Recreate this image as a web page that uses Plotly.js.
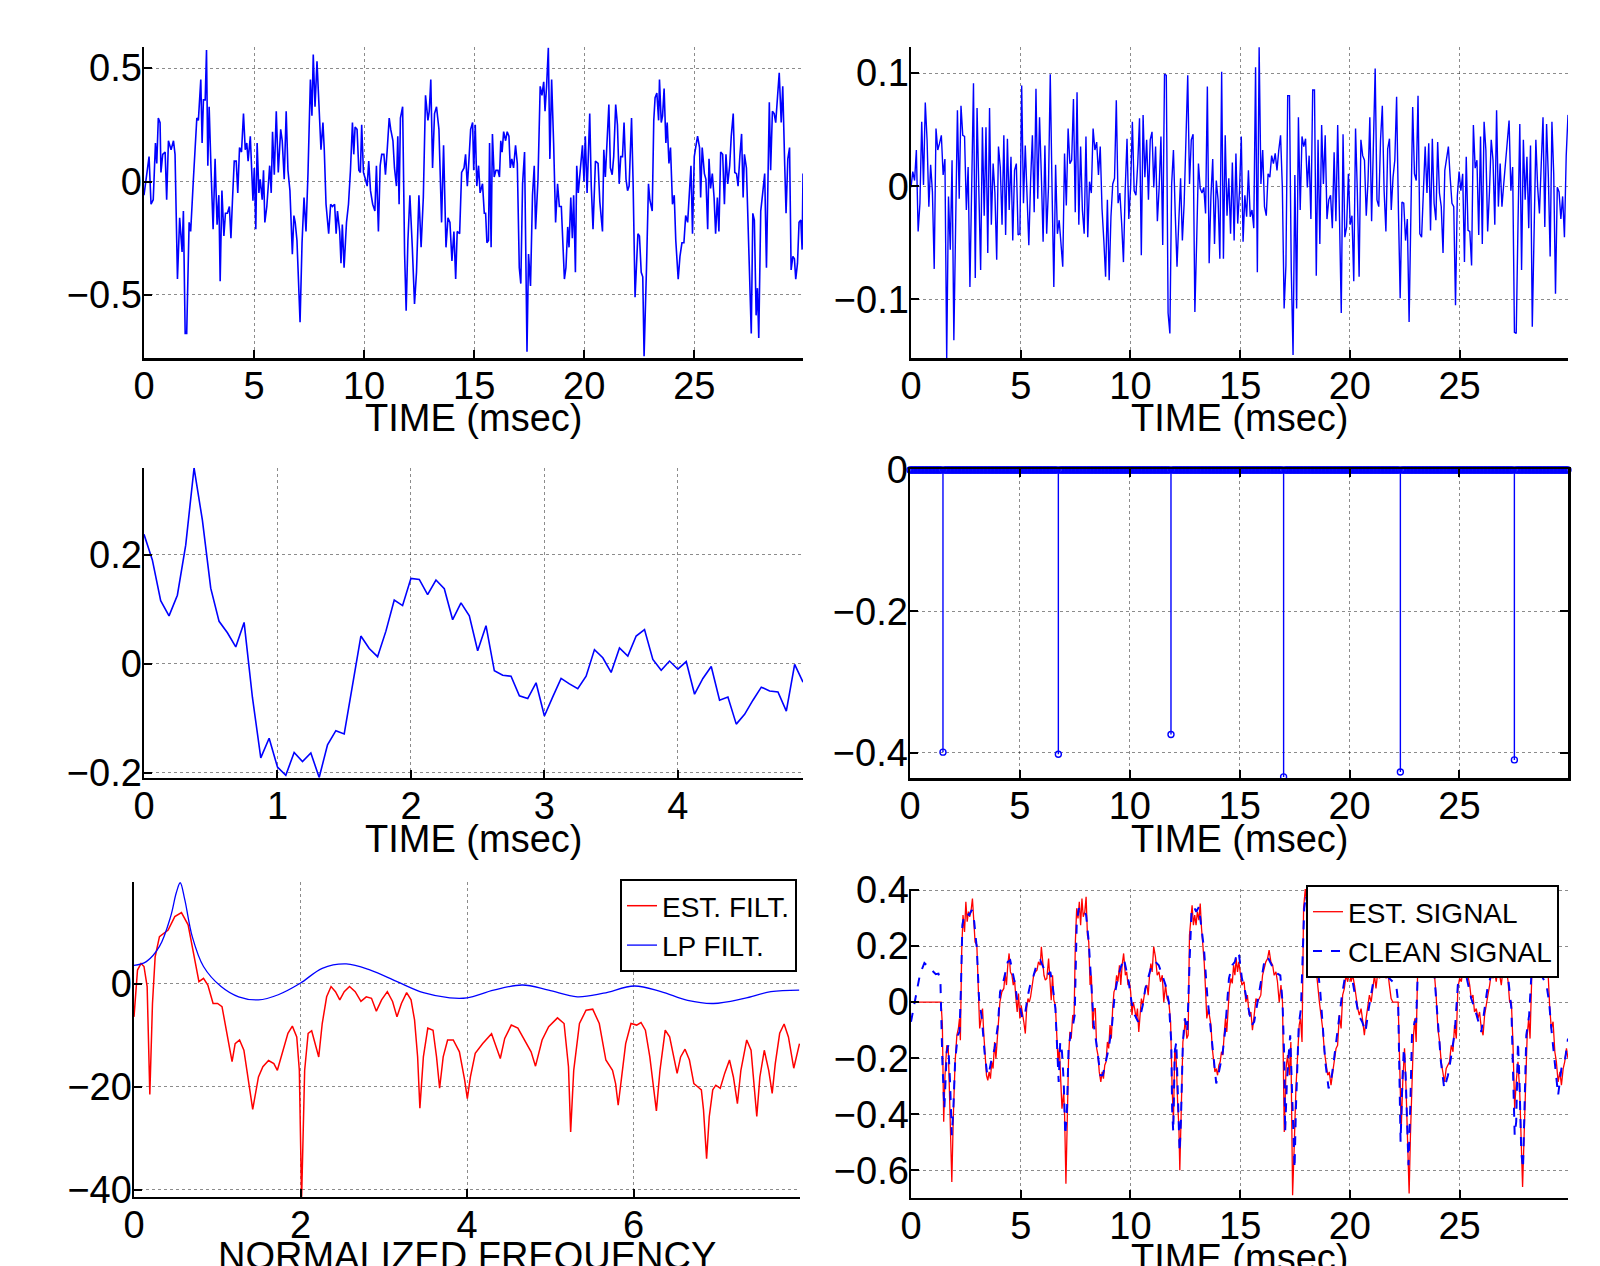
<!DOCTYPE html>
<html><head><meta charset="utf-8">
<script src="https://cdn.plot.ly/plotly-3.0.1.min.js"></script>
<style>html,body{margin:0;padding:0;background:#fff}#chart{width:1600px;height:1266px}</style>
</head><body><div id="chart"></div>
<script>
// ---------- DATA ----------
// Top-left: noisy speech-like signal [time ms, value]
const tlPts = [
[0,-0.06],[0.12,0.03],[0.23,0.11],[0.32,-0.10],[0.42,-0.08],[0.52,0.17],[0.58,0.08],[0.65,0.28],[0.73,0.26],[0.77,0.04],
[0.85,0.12],[0.96,0.13],[1.03,-0.08],[1.11,0.18],[1.23,0.14],[1.34,0.18],[1.41,0.12],[1.52,-0.43],[1.62,-0.16],[1.73,-0.31],
[1.79,-0.13],[1.87,-0.67],[1.94,-0.67],[2.05,-0.18],[2.12,-0.22],[2.25,0.02],[2.40,0.28],[2.47,0.27],[2.58,0.45],[2.64,0.17],
[2.70,0.36],[2.78,0.36],[2.84,0.58],[2.90,0.07],[2.96,0.33],[3.05,0.04],[3.14,-0.21],[3.23,0.10],[3.32,-0.19],[3.40,-0.06],
[3.46,-0.44],[3.54,-0.04],[3.63,-0.24],[3.70,-0.14],[3.79,-0.14],[3.88,-0.11],[3.95,-0.25],[4.02,-0.08],[4.10,0.09],[4.19,0.09],
[4.26,-0.05],[4.34,0.15],[4.43,0.13],[4.52,0.30],[4.60,0.14],[4.67,0.17],[4.73,0.09],[4.83,0.20],[4.89,0.05],[4.95,-0.085],
[5.01,0.06],[5.08,-0.21],[5.14,0.17],[5.22,-0.05],[5.28,0.01],[5.37,-0.08],[5.43,0.05],[5.49,-0.18],[5.58,-0.11],[5.71,0.07],
[5.78,-0.05],[5.84,0.22],[5.92,0.03],[6.01,0.31],[6.10,0.04],[6.21,0.23],[6.28,0.18],[6.37,0.01],[6.46,0.31],[6.54,0.05],
[6.63,-0.04],[6.74,-0.32],[6.81,-0.15],[6.87,-0.18],[6.95,-0.26],[7.09,-0.62],[7.18,-0.27],[7.27,-0.07],[7.36,-0.22],[7.45,0.035],
[7.56,0.45],[7.63,0.29],[7.69,0.56],[7.77,0.33],[7.86,0.53],[7.95,0.34],[8.04,0.14],[8.13,0.26],[8.19,0.14],[8.27,-0.10],
[8.39,-0.23],[8.48,-0.10],[8.56,-0.11],[8.66,-0.10],[8.73,-0.23],[8.79,-0.13],[8.89,-0.22],[8.95,-0.36],[9.01,-0.19],[9.09,-0.38],
[9.20,-0.18],[9.29,-0.10],[9.38,0.05],[9.47,0.26],[9.53,0.12],[9.59,0.24],[9.68,0.23],[9.76,0.05],[9.83,0.04],[9.89,0.25],
[9.97,0.04],[10.06,0.01],[10.14,-0.02],[10.21,0.09],[10.29,-0.04],[10.39,-0.10],[10.49,-0.13],[10.56,0.07],[10.65,-0.22],[10.73,0.07],
[10.80,0.12],[10.90,0.12],[10.97,0.03],[11.05,0.14],[11.14,0.28],[11.21,0.23],[11.31,0.18],[11.38,0.06],[11.47,-0.02],[11.53,0.20],
[11.59,-0.10],[11.65,0.28],[11.75,0.33],[11.84,-0.32],[11.91,-0.57],[11.99,-0.26],[12.08,-0.06],[12.19,-0.29],[12.29,-0.54],[12.38,-0.40],
[12.49,-0.06],[12.59,-0.29],[12.69,-0.07],[12.79,0.38],[12.90,0.27],[12.96,0.31],[13.03,0.45],[13.11,0.06],[13.20,0.30],[13.29,0.33],
[13.40,0.23],[13.52,-0.18],[13.61,0.16],[13.72,-0.29],[13.81,-0.16],[13.90,-0.18],[13.99,-0.35],[14.08,-0.22],[14.16,-0.43],[14.23,-0.22],
[14.34,-0.23],[14.43,0.04],[14.54,0.06],[14.61,0.12],[14.69,-0.02],[14.76,0.09],[14.84,0.23],[14.93,0.26],[14.98,0.05],
[15.05,0.25],[15.12,-0.02],[15.20,0.07],[15.27,-0.05],[15.38,-0.01],[15.46,-0.14],[15.52,-0.14],[15.58,-0.27],[15.65,-0.26],[15.70,0.17],
[15.77,-0.29],[15.83,0.21],[15.91,0.02],[15.99,0.05],[16.08,0.05],[16.15,0.02],[16.21,0.18],[16.27,0.13],[16.34,0.22],[16.43,0.18],
[16.50,0.22],[16.58,0.20],[16.64,0.06],[16.71,0.10],[16.79,0.06],[16.88,0.16],[16.96,0.08],[17.05,-0.38],[17.12,-0.45],[17.20,-0.01],
[17.29,0.13],[17.40,-0.75],[17.47,-0.32],[17.56,-0.46],[17.65,-0.06],[17.73,0.07],[17.79,-0.21],[17.90,0.01],[18.00,0.42],[18.08,0.38],
[18.16,0.44],[18.22,0.31],[18.29,0.42],[18.37,0.59],[18.44,0.10],[18.52,0.45],[18.61,0.17],[18.70,-0.18],[18.79,-0.01],[18.87,-0.11],
[18.96,-0.11],[19.10,-0.43],[19.17,-0.38],[19.25,-0.20],[19.31,-0.29],[19.39,-0.07],[19.46,-0.25],[19.52,-0.06],[19.60,-0.40],[19.66,0.07],
[19.73,-0.05],[19.83,0.08],[19.92,0.16],[19.99,0.00],[20.05,0.20],[20.13,-0.05],[20.25,0.30],[20.32,-0.02],[20.40,-0.21],[20.51,0.09],
[20.63,0.08],[20.71,-0.09],[20.83,-0.22],[20.89,0.14],[20.96,0.02],[21.02,0.14],[21.12,0.34],[21.19,0.06],[21.27,0.03],[21.34,0.11],
[21.43,0.34],[21.51,0.25],[21.59,-0.01],[21.66,0.11],[21.74,0.11],[21.81,0.26],[21.90,0.01],[21.97,-0.04],[22.04,-0.02],[22.15,0.28],
[22.22,0.00],[22.31,-0.51],[22.44,-0.23],[22.51,-0.24],[22.59,-0.40],[22.66,-0.42],[22.72,-0.77],[22.83,-0.38],[22.92,-0.01],[22.98,-0.08],
[23.09,-0.13],[23.16,0.27],[23.22,0.37],[23.30,0.39],[23.38,0.27],[23.42,0.45],[23.50,0.26],[23.56,0.29],[23.63,0.41],[23.71,0.17],
[23.77,0.26],[23.85,0.08],[23.92,0.15],[24.01,-0.10],[24.09,-0.06],[24.16,-0.26],[24.27,-0.43],[24.35,-0.33],[24.44,-0.27],[24.53,-0.27],
[24.61,-0.15],[24.70,-0.18],[24.77,-0.08],[24.85,0.07],[24.92,-0.23],[25.00,0.11],[25.08,0.16],[25.15,0.20],[25.24,0.15],[25.29,-0.07],
[25.36,0.15],[25.46,0.035],[25.53,0.01],[25.61,-0.21],[25.67,0.10],[25.74,-0.03],[25.82,0.035],[25.90,-0.07],[25.97,-0.23],[26.05,-0.07],
[26.12,-0.22],[26.20,0.13],[26.29,0.12],[26.37,-0.10],[26.44,0.12],[26.52,-0.01],[26.61,0.07],[26.68,0.20],[26.77,0.30],[26.84,0.04],
[26.92,0.035],[26.99,-0.02],[27.07,0.11],[27.15,0.21],[27.22,-0.07],[27.28,0.12],[27.37,0.06],[27.46,-0.23],[27.59,-0.67],[27.66,-0.14],
[27.73,-0.17],[27.81,-0.59],[27.87,-0.47],[27.93,-0.69],[28.02,-0.13],[28.11,-0.05],[28.20,0.035],[28.28,-0.38],[28.37,0.12],[28.41,0.35],
[28.47,0.05],[28.55,0.31],[28.63,0.30],[28.70,0.26],[28.78,0.37],[28.86,0.48],[28.95,0.26],[29.02,0.42],[29.11,0.07],[29.17,-0.14],
[29.25,0.10],[29.33,0.15],[29.40,-0.39],[29.48,-0.33],[29.55,-0.34],[29.61,-0.43],[29.69,-0.36],[29.76,-0.18],[29.84,-0.17],[29.90,-0.30],
[29.94,0.035]
];

// Top-right: residual noise, evenly sampled over the record
const trSpan = 29.94; // ms
const trVals = [
-0.001,0.013,0.005,0.032,-0.040,-0.015,0.057,0.001,0.074,0.041,
-0.018,0.019,-0.005,-0.073,0.051,0.032,0.038,0.045,0.010,0.024,
-0.152,-0.009,-0.056,0.023,-0.136,-0.045,0.067,-0.011,0.071,0.045,
0.044,-0.021,0.017,-0.089,0.011,0.091,-0.081,0.069,-0.004,-0.074,
0.052,-0.026,0.052,-0.059,0.069,-0.034,0.020,-0.006,-0.065,0.035,
0.017,-0.034,0.045,-0.043,0.042,-0.021,0.026,-0.048,0.014,0.020,
-0.043,-0.042,0.089,-0.015,0.036,-0.001,-0.052,0.005,0.045,-0.023,
0.086,-0.011,0.061,0.010,-0.049,0.036,-0.042,-0.001,0.099,-0.002,
-0.089,0.019,-0.042,-0.030,-0.051,-0.071,0.029,-0.017,0.051,0.020,
0.023,0.077,-0.023,0.083,-0.034,0.035,-0.021,-0.042,0.044,-0.045,
0.004,-0.006,0.051,0.032,0.039,0.010,0.035,-0.020,-0.048,-0.080,
-0.012,-0.083,-0.027,0.002,0.007,0.076,-0.015,-0.006,-0.033,-0.067,
-0.002,0.042,-0.029,-0.001,0.057,-0.004,-0.008,0.020,0.060,-0.061,
0.063,0.008,0.041,-0.012,0.041,0.048,-0.001,0.035,-0.031,-0.001,
0.044,-0.052,0.099,0.098,-0.112,-0.130,0.002,0.032,-0.024,-0.071,
-0.031,0.007,-0.048,-0.015,0.041,0.098,0.002,0.041,0.046,-0.111,
-0.049,0.020,-0.002,-0.006,-0.001,-0.024,0.088,-0.068,-0.009,0.024,
-0.051,0.005,-0.012,-0.064,0.101,-0.064,0.045,-0.026,0.007,-0.042,
0.021,-0.048,0.029,-0.033,-0.004,0.044,-0.049,-0.008,-0.027,0.014,
-0.027,-0.021,-0.037,0.105,-0.076,0.123,0.002,0.032,-0.018,-0.026,
0.011,0.008,0.027,0.020,0.029,0.014,0.032,0.045,-0.001,-0.108,
-0.070,0.080,0.080,-0.074,-0.149,0.010,-0.108,0.061,-0.021,0.044,
0.035,0.042,-0.001,0.027,-0.029,0.085,0.085,-0.079,0.041,-0.051,
0.054,0.002,0.045,-0.029,-0.012,-0.008,-0.037,0.030,-0.031,0.054,
-0.027,-0.112,0.046,-0.045,-0.036,0.011,-0.034,-0.026,-0.084,0.051,
-0.005,-0.080,0.041,0.027,0.023,-0.026,0.005,0.061,-0.031,0.048,
0.104,-0.012,-0.018,0.041,0.071,-0.004,-0.040,0.033,0.042,-0.021,
0.008,0.023,0.079,-0.020,-0.099,-0.014,-0.015,-0.048,-0.029,-0.120,
-0.029,0.070,0.011,0.005,0.080,-0.042,-0.045,-0.009,0.035,-0.006,
0.038,-0.039,0.042,-0.015,-0.030,0.039,-0.006,-0.018,-0.059,0.014,
0.024,0.035,0.008,-0.015,-0.018,-0.105,-0.009,0.013,-0.004,0.011,
-0.067,0.026,-0.039,-0.040,-0.070,0.054,0.016,0.023,-0.043,0.044,
-0.051,0.057,0.032,-0.040,-0.005,0.041,0.023,-0.034,0.067,-0.018,
0.020,-0.018,0.002,0.020,0.041,0.058,-0.004,0.017,-0.129,-0.130,
-0.033,0.055,-0.074,0.041,-0.012,0.026,-0.037,0.036,-0.124,-0.021,
0.041,-0.001,-0.024,0.019,0.061,-0.036,0.055,0.008,-0.062,0.057,
0.011,-0.095,-0.001,-0.005,-0.029,-0.009,-0.045,0.027,0.063
];

// Middle-left: estimated filter impulse response, sampled at 16 kHz
const sampleMs = 0.0625;
const mlVals = [
0.238,0.191,0.116,0.088,0.126,0.218,0.360,0.264,0.139,0.078,
0.057,0.031,0.076,-0.062,-0.173,-0.137,-0.190,-0.205,-0.163,-0.180,
-0.164,-0.209,-0.149,-0.123,-0.129,-0.038,0.051,0.028,0.013,0.060,
0.117,0.107,0.157,0.155,0.127,0.154,0.138,0.081,0.112,0.088,
0.024,0.070,-0.013,-0.021,-0.023,-0.059,-0.064,-0.035,-0.096,-0.061,
-0.027,-0.037,-0.046,-0.023,0.026,0.011,-0.016,0.029,0.014,0.051,
0.063,0.008,-0.012,0.005,-0.010,0.004,-0.056,-0.027,-0.005,-0.067,
-0.061,-0.111,-0.093,-0.067,-0.043,-0.050,-0.052,-0.087,-0.001,-0.034
];

// Middle-right: sparse pulse train (480 samples at 16 kHz, zero except pulses)
const pulseCount = 480;
const pulseTimes = [1.5, 6.75, 11.875, 17.0, 22.3125, 27.5];
const pulseAmps  = [-0.399, -0.402, -0.374, -0.434, -0.427, -0.410];

// Bottom-left: frequency responses [normalized freq, dB]
const lpFilt = [
[0,3.6],[0.148,4.35],[0.306,7.3],[0.44,13.1],[0.507,17.7],[0.555,19.7],[0.61,16.4],[0.70,9.2],[0.835,3.4],[1.046,-0.5],
[1.257,-2.5],[1.495,-3.1],[1.733,-2.1],[1.997,0.13],[2.261,3.05],[2.55,3.9],[2.84,2.7],[3.16,0.45],[3.476,-1.7],[3.793,-2.7],
[4.0,-2.7],[4.32,-1.2],[4.665,-0.2],[4.98,-1.2],[5.325,-2.5],[5.64,-1.8],[6.01,-0.4],[6.33,-1.5],[6.65,-3.2],[6.96,-3.8],
[7.33,-2.8],[7.65,-1.5],[7.99,-1.2]
];
const estFilt = [
[0,-6.4],[0.042,2.7],[0.085,4.0],[0.12,3.4],[0.158,-0.5],[0.19,-21.5],[0.222,-3.8],[0.254,5.3],[0.306,9.2],[0.359,9.9],
[0.41,10.5],[0.49,13.1],[0.57,13.9],[0.65,11.5],[0.73,5.0],[0.78,0.45],[0.835,1.1],[0.887,-0.2],[0.95,-3.8],[1.004,-3.8],
[1.057,-4.4],[1.125,-10.9],[1.178,-15.1],[1.215,-11.6],[1.268,-10.9],[1.32,-12.9],[1.379,-19.4],[1.426,-24.4],[1.495,-18.1],[1.548,-16.1],
[1.616,-14.9],[1.68,-15.5],[1.722,-16.8],[1.786,-13.2],[1.849,-9.6],[1.902,-8.2],[1.955,-10.3],[1.986,-16.8],[2.013,-42],[2.05,-16.8],
[2.092,-9.6],[2.134,-9.1],[2.176,-11.6],[2.219,-14.2],[2.261,-7.7],[2.314,-2.5],[2.367,-0.5],[2.42,-1.5],[2.472,-3.1],[2.525,-1.5],
[2.589,-0.5],[2.657,-1.5],[2.726,-3.4],[2.79,-2.5],[2.853,-2.8],[2.911,-5.3],[2.974,-3.1],[3.043,-1.5],[3.106,-3.4],[3.159,-6.4],
[3.212,-3.8],[3.275,-1.7],[3.328,-3.1],[3.37,-7.0],[3.407,-14.2],[3.434,-24.2],[3.476,-14.2],[3.529,-8.6],[3.592,-9.0],[3.634,-14.2],
[3.671,-20.3],[3.714,-14.2],[3.767,-10.9],[3.835,-10.9],[3.909,-13.2],[3.972,-18.7],[4.004,-22.3],[4.041,-18.1],[4.099,-13.5],[4.189,-11.6],
[4.295,-9.7],[4.347,-12.2],[4.4,-14.5],[4.453,-10.6],[4.532,-8.0],[4.611,-8.6],[4.69,-10.9],[4.77,-13.2],[4.823,-16.0],[4.902,-10.9],
[4.981,-8.3],[5.087,-6.6],[5.166,-7.7],[5.219,-16.1],[5.245,-28.8],[5.282,-16.8],[5.351,-7.7],[5.43,-5.1],[5.51,-4.9],[5.589,-7.7],
[5.668,-14.8],[5.748,-16.8],[5.785,-19.4],[5.816,-23.6],[5.853,-18.7],[5.906,-11.6],[5.97,-7.7],[6.038,-8.0],[6.09,-7.5],[6.143,-9.0],
[6.196,-14.2],[6.238,-20.0],[6.275,-24.7],[6.318,-16.8],[6.381,-9.0],[6.434,-10.3],[6.487,-14.8],[6.524,-17.4],[6.566,-14.2],[6.619,-12.7],
[6.672,-14.8],[6.725,-19.4],[6.778,-20.1],[6.815,-20.6],[6.841,-24.5],[6.878,-34.0],[6.91,-25.8],[6.952,-20.6],[6.989,-19.7],[7.042,-20.3],
[7.095,-17.4],[7.153,-14.8],[7.2,-18.1],[7.248,-23.3],[7.29,-16.8],[7.36,-10.9],[7.412,-12.9],[7.444,-19.4],[7.481,-25.8],[7.518,-18.1],
[7.571,-12.9],[7.624,-16.8],[7.666,-21.3],[7.703,-15.5],[7.756,-9.6],[7.809,-7.8],[7.861,-10.3],[7.925,-16.4],[7.994,-11.6]
];

// Bottom-right: estimated vs clean signal [time ms, value]
const estSignal = [
[0,0],[1.37,0],[1.43,-0.082],[1.49,-0.427],[1.55,-0.26],[1.63,-0.154],[1.70,-0.165],[1.77,-0.38],[1.86,-0.642],[1.93,-0.404],
[2.01,-0.213],[2.09,-0.118],[2.16,-0.094],[2.21,-0.058],[2.25,-0.136],[2.31,0.18],[2.37,0.311],[2.44,0.251],[2.50,0.358],[2.56,0.287],
[2.62,0.323],[2.68,0.305],[2.74,0.329],[2.80,0.37],[2.86,0.275],[2.92,0.215],[3.00,0.204],[3.07,0.037],[3.13,-0.094],[3.20,-0.058],
[3.26,-0.023],[3.32,-0.118],[3.38,-0.201],[3.44,-0.261],[3.50,-0.279],[3.56,-0.249],[3.62,-0.273],[3.68,-0.213],[3.74,-0.237],[3.81,-0.142],
[3.87,-0.201],[3.93,-0.13],[3.99,-0.082],[4.05,0.0],[4.14,0.037],[4.23,0.049],[4.29,0.102],[4.35,0.061],[4.41,0.132],[4.47,0.174],
[4.53,0.108],[4.60,0.096],[4.66,0.061],[4.72,0.079],[4.78,0.013],[4.84,-0.035],[4.90,0.031],[4.96,-0.058],[5.02,-0.011],[5.08,-0.035],
[5.14,-0.07],[5.21,-0.112],[5.27,-0.023],[5.33,0.013],[5.39,0.0],[5.45,0.019],[5.51,0.061],[5.59,0.096],[5.66,0.108],[5.74,0.114],
[5.81,0.144],[5.89,0.132],[5.94,0.198],[6.00,0.144],[6.06,0.096],[6.12,0.079],[6.19,0.085],[6.27,0.156],[6.33,0.096],[6.39,0.007],
[6.45,0.096],[6.51,0.007],[6.58,-0.011],[6.64,-0.118],[6.70,-0.213],[6.76,-0.165],[6.82,-0.261],[6.88,-0.38],[6.96,-0.32],[7.00,-0.404],
[7.06,-0.648],[7.12,-0.404],[7.18,-0.201],[7.24,-0.106],[7.30,-0.13],[7.37,-0.046],[7.43,-0.058],[7.49,0.215],[7.55,0.335],[7.61,0.299],
[7.67,0.358],[7.73,0.275],[7.79,0.37],[7.85,0.305],[7.92,0.323],[7.98,0.376],[8.04,0.239],[8.10,0.215],[8.16,0.061],[8.22,0.096],
[8.28,-0.094],[8.34,-0.023],[8.40,-0.023],[8.46,-0.165],[8.52,-0.189],[8.58,-0.249],[8.65,-0.285],[8.71,-0.249],[8.77,-0.273],[8.83,-0.225],
[8.89,-0.213],[8.95,-0.142],[9.01,-0.165],[9.07,-0.082],[9.13,-0.13],[9.19,-0.023],[9.25,0.037],[9.31,0.049],[9.37,0.096],[9.43,0.073],
[9.50,0.132],[9.56,0.061],[9.62,0.132],[9.69,0.174],[9.77,0.096],[9.83,0.108],[9.89,0.061],[9.95,0.073],[10.01,0.037],[10.07,-0.046],
[10.13,0.0],[10.19,-0.023],[10.26,-0.058],[10.32,-0.023],[10.38,-0.106],[10.44,-0.046],[10.50,0.013],[10.56,-0.011],[10.62,0.013],[10.68,0.049],
[10.75,0.061],[10.81,0.025],[10.87,0.096],[10.93,0.138],[10.99,0.108],[11.06,0.198],[11.14,0.162],[11.22,0.096],[11.30,0.108],[11.37,0.073],
[11.45,0.096],[11.52,0.0],[11.60,0.061],[11.67,0.013],[11.75,0.0],[11.83,-0.07],[11.90,-0.308],[11.96,-0.427],[12.02,-0.165],[12.09,-0.213],
[12.15,-0.356],[12.21,-0.451],[12.25,-0.60],[12.33,-0.38],[12.39,-0.142],[12.45,-0.106],[12.50,-0.058],[12.57,-0.13],[12.63,-0.118],[12.69,0.239],
[12.75,0.287],[12.81,0.346],[12.87,0.275],[12.93,0.311],[12.99,0.275],[13.05,0.323],[13.12,0.293],[13.18,0.352],[13.24,0.263],[13.30,0.215],
[13.36,0.144],[13.42,0.049],[13.48,-0.058],[13.55,-0.023],[13.61,-0.046],[13.67,-0.082],[13.73,-0.165],[13.79,-0.213],[13.85,-0.249],[13.91,-0.237],
[13.97,-0.261],[14.03,-0.225],[14.09,-0.213],[14.15,-0.177],[14.21,-0.189],[14.27,-0.118],[14.33,-0.058],[14.39,-0.106],[14.45,0.0],[14.51,0.049],
[14.58,0.085],[14.64,0.067],[14.70,0.132],[14.76,0.096],[14.82,0.156],[14.88,0.108],[14.94,0.144],[15.00,0.108],[15.08,0.061],[15.18,0.073],
[15.26,0.0],[15.33,0.025],[15.41,-0.046],[15.49,-0.035],[15.56,-0.10],[15.64,-0.046],[15.72,0.013],[15.79,0.0],[15.87,0.013],[15.94,0.025],
[16.02,0.096],[16.10,0.12],[16.17,0.144],[16.25,0.156],[16.32,0.186],[16.40,0.144],[16.48,0.132],[16.55,0.096],[16.63,0.108],[16.70,0.073],
[16.78,0.0],[16.86,0.061],[16.93,0.0],[17.01,-0.463],[17.09,-0.237],[17.16,-0.189],[17.24,-0.261],[17.31,-0.142],[17.39,-0.689],[17.46,-0.523],
[17.54,-0.308],[17.62,-0.189],[17.69,-0.082],[17.75,-0.058],[17.82,-0.142],[17.89,0.335],[17.97,0.406],[18.05,0.34],[18.15,0.30],[18.25,0.36],
[18.35,0.28],[18.40,0.40],[18.46,0.12],[18.61,0.0],[18.68,-0.046],[18.76,-0.094],[18.84,-0.177],[18.91,-0.225],[18.99,-0.261],[19.06,-0.249],
[19.14,-0.296],[19.22,-0.249],[19.29,-0.213],[19.37,-0.165],[19.44,-0.154],[19.52,-0.046],[19.60,-0.094],[19.67,0.025],[19.75,0.049],[19.82,0.096],
[19.90,0.073],[19.98,0.108],[20.05,0.073],[20.13,0.096],[20.21,0.061],[20.28,0.013],[20.36,-0.023],[20.43,-0.046],[20.51,-0.023],[20.59,-0.07],
[20.66,-0.118],[20.74,-0.058],[20.81,-0.023],[20.89,0.025],[20.97,0.0],[21.04,0.037],[21.12,0.096],[21.19,0.049],[21.27,0.108],[21.35,0.085],
[21.42,0.12],[21.50,0.096],[21.57,0.132],[21.65,0.085],[21.73,0.108],[21.80,0.061],[21.88,0.013],[21.96,0.0],[22.11,0.0],[22.20,0.0],
[22.26,-0.189],[22.34,-0.451],[22.41,-0.285],[22.49,-0.165],[22.56,-0.308],[22.64,-0.499],[22.70,-0.683],[22.76,-0.475],[22.84,-0.213],[22.90,-0.118],
[22.96,-0.058],[23.02,-0.142],[23.10,0.156],[23.17,0.335],[23.25,0.32],[23.35,0.36],[23.45,0.30],[23.55,0.33],[23.62,0.40],[23.70,0.25],
[23.78,0.17],[23.86,0.096],[23.93,0.025],[24.01,-0.094],[24.09,-0.142],[24.16,-0.213],[24.24,-0.249],[24.31,-0.285],[24.39,-0.237],[24.47,-0.225],
[24.54,-0.213],[24.62,-0.154],[24.70,-0.177],[24.77,-0.082],[24.85,-0.13],[24.92,0.049],[25.00,0.085],[25.08,0.073],[25.15,0.12],[25.23,0.108],
[25.30,0.126],[25.38,0.096],[25.46,0.061],[25.53,0.013],[25.61,0.025],[25.68,-0.035],[25.76,-0.023],[25.84,-0.058],[25.91,-0.035],[25.99,-0.094],
[26.07,-0.118],[26.14,-0.046],[26.22,0.0],[26.29,0.025],[26.37,0.061],[26.45,0.108],[26.52,0.085],[26.60,0.108],[26.67,0.073],[26.75,0.132],
[26.83,0.096],[26.90,0.061],[26.98,0.12],[27.05,0.096],[27.13,0.12],[27.21,0.073],[27.28,0.0],[27.36,0.0],[27.43,-0.142],[27.51,-0.38],
[27.58,-0.285],[27.66,-0.213],[27.74,-0.32],[27.81,-0.475],[27.87,-0.66],[27.95,-0.451],[28.03,-0.213],[28.08,-0.118],[28.15,-0.058],[28.21,-0.13],
[28.29,0.096],[28.35,0.335],[28.45,0.38],[28.55,0.30],[28.65,0.35],[28.75,0.25],[28.85,0.20],[28.95,0.15],[29.03,0.108],[29.11,-0.023],
[29.18,-0.094],[29.26,-0.07],[29.34,-0.177],[29.41,-0.213],[29.49,-0.285],[29.57,-0.249],[29.64,-0.296],[29.72,-0.237],[29.79,-0.213],[29.87,-0.165],
[29.94,-0.201]
];
const cleanSignal = [
[0,-0.07],[0.18,0.0],[0.41,0.10],[0.61,0.14],[0.79,0.126],[0.94,0.114],[1.13,0.10],[1.25,0.102],[1.34,0.079],[1.43,-0.213],
[1.52,-0.38],[1.63,-0.177],[1.70,-0.154],[1.78,-0.285],[1.86,-0.475],[1.93,-0.38],[2.01,-0.213],[2.13,-0.118],[2.21,-0.106],[2.28,0.061],
[2.34,0.275],[2.44,0.317],[2.54,0.317],[2.65,0.311],[2.77,0.329],[2.88,0.287],[3.0,0.192],[3.10,0.013],[3.23,-0.058],[3.35,-0.177],
[3.46,-0.249],[3.53,-0.261],[3.65,-0.213],[3.81,-0.165],[3.96,-0.082],[4.06,0.037],[4.17,0.061],[4.29,0.102],[4.41,0.144],[4.52,0.15],
[4.63,0.108],[4.75,0.061],[4.87,-0.011],[4.98,-0.023],[5.08,-0.058],[5.21,-0.035],[5.33,0.025],[5.43,0.061],[5.59,0.096],[5.74,0.138],
[5.89,0.15],[6.04,0.12],[6.19,0.096],[6.35,0.108],[6.45,0.061],[6.58,-0.023],[6.65,-0.165],[6.73,-0.285],[6.80,-0.142],[6.88,-0.177],
[6.96,-0.285],[7.03,-0.475],[7.11,-0.38],[7.18,-0.165],[7.29,-0.106],[7.38,-0.082],[7.46,-0.046],[7.55,0.275],[7.64,0.335],[7.75,0.323],
[7.87,0.329],[7.98,0.311],[8.10,0.215],[8.22,0.061],[8.33,-0.082],[8.48,-0.165],[8.63,-0.261],[8.74,-0.261],[8.86,-0.213],[9.01,-0.165],
[9.16,-0.082],[9.28,0.025],[9.39,0.073],[9.54,0.12],[9.70,0.156],[9.80,0.12],[9.92,0.073],[10.05,0.0],[10.20,-0.046],[10.35,-0.07],
[10.46,-0.046],[10.56,-0.011],[10.68,0.049],[10.84,0.096],[10.99,0.138],[11.14,0.144],[11.29,0.132],[11.45,0.096],[11.60,0.061],[11.75,0.0],
[11.86,-0.142],[11.90,-0.38],[11.95,-0.463],[12.02,-0.177],[12.09,-0.142],[12.18,-0.38],[12.24,-0.535],[12.30,-0.427],[12.39,-0.142],[12.48,-0.058],
[12.59,-0.106],[12.70,0.156],[12.79,0.335],[12.89,0.34],[13.00,0.323],[13.12,0.34],[13.24,0.263],[13.35,0.192],[13.50,0.025],[13.65,-0.094],
[13.81,-0.225],[13.91,-0.29],[14.03,-0.249],[14.19,-0.189],[14.31,-0.106],[14.41,0.0],[14.49,0.085],[14.64,0.132],[14.76,0.144],[14.87,0.18],
[14.95,0.168],[15.08,0.085],[15.23,0.037],[15.38,-0.023],[15.53,-0.082],[15.64,-0.07],[15.79,0.0],[15.94,0.085],[16.10,0.144],[16.25,0.162],
[16.40,0.138],[16.55,0.114],[16.70,0.102],[16.83,0.096],[16.93,0.0],[17.01,-0.201],[17.05,-0.463],[17.13,-0.285],[17.21,-0.189],[17.28,-0.118],
[17.34,-0.261],[17.42,-0.499],[17.48,-0.594],[17.54,-0.38],[17.62,-0.142],[17.67,-0.082],[17.77,-0.023],[17.85,0.156],[17.92,0.335],[18.00,0.382],
[18.10,0.33],[18.20,0.32],[18.30,0.34],[18.40,0.30],[18.53,0.12],[18.64,0.049],[18.76,-0.094],[18.88,-0.213],[19.03,-0.308],[19.18,-0.261],
[19.34,-0.165],[19.49,-0.058],[19.64,0.025],[19.79,0.096],[19.94,0.12],[20.10,0.085],[20.25,0.025],[20.40,-0.046],[20.56,-0.07],[20.71,-0.106],
[20.86,-0.023],[21.04,0.061],[21.19,0.108],[21.35,0.12],[21.50,0.108],[21.66,0.096],[21.80,0.085],[21.96,0.073],[22.11,0.061],[22.20,0.0],
[22.26,-0.213],[22.31,-0.499],[22.39,-0.285],[22.46,-0.165],[22.54,-0.261],[22.62,-0.499],[22.67,-0.582],[22.75,-0.38],[22.83,-0.118],[22.95,-0.07],
[23.02,-0.07],[23.10,0.12],[23.20,0.30],[23.35,0.33],[23.50,0.32],[23.65,0.30],[23.75,0.20],[23.84,0.108],[24.00,-0.07],[24.15,-0.213],
[24.30,-0.308],[24.47,-0.261],[24.60,-0.201],[24.78,-0.106],[24.92,0.061],[25.08,0.108],[25.23,0.12],[25.38,0.061],[25.53,0.013],[25.69,-0.023],
[25.84,-0.07],[25.99,-0.106],[26.14,-0.023],[26.29,0.061],[26.45,0.096],[26.60,0.114],[26.75,0.108],[26.90,0.096],[27.05,0.108],[27.20,0.096],
[27.36,-0.023],[27.43,-0.213],[27.51,-0.475],[27.58,-0.427],[27.66,-0.142],[27.73,-0.285],[27.81,-0.535],[27.89,-0.594],[27.96,-0.38],[28.04,-0.118],
[28.17,-0.046],[28.27,0.096],[28.35,0.382],[28.47,0.406],[28.58,0.275],[28.73,0.096],[28.96,0.061],[29.08,0.0],[29.18,-0.094],[29.34,-0.213],
[29.49,-0.332],[29.64,-0.237],[29.79,-0.213],[29.94,-0.13]
];

const timeTicks = [0, 5, 10, 15, 20, 25];
const freqTicks = [0, 2, 4, 6];
const timeLabel = 'TIME (msec)';
const freqLabel = 'NORMALIZED FREQUENCY';
const legendBL = ['EST. FILT.', 'LP FILT.'];
const legendBR = ['EST. SIGNAL', 'CLEAN SIGNAL'];

// ---------- BUILD ----------
const FONT = '"Liberation Sans", Arial, Helvetica, sans-serif';
const W = 1600, H = 1266;
const BLUE = '#0000ff', RED = '#ff0000';
const colX = a => a.map(p => p[0]);
const colY = a => a.map(p => p[1]);

const trT = trVals.map((v, i) => i * trSpan / (trVals.length - 1));
const mlT = mlVals.map((v, i) => i * sampleMs);

// pulse train samples
const pulseX = [], pulseY = [];
for (let k = 0; k < pulseCount; k++) {
  const t = k * sampleMs;
  const j = pulseTimes.indexOf(t);
  pulseX.push(t); pulseY.push(j >= 0 ? pulseAmps[j] : 0);
}
const stemX = [], stemY = [];
pulseTimes.forEach((t, i) => { stemX.push(t, t, null); stemY.push(0, pulseAmps[i], null); });

const traces = [
  {x: colX(tlPts), y: colY(tlPts), xaxis:'x', yaxis:'y', mode:'lines', line:{color:BLUE, width:1.6}, showlegend:false},
  {x: trT, y: trVals, xaxis:'x2', yaxis:'y2', mode:'lines', line:{color:BLUE, width:1.4}, showlegend:false},
  {x: mlT, y: mlVals, xaxis:'x3', yaxis:'y3', mode:'lines', line:{color:BLUE, width:1.6}, showlegend:false},
  {x: stemX, y: stemY, xaxis:'x4', yaxis:'y4', mode:'lines', line:{color:BLUE, width:1.4}, showlegend:false},
  {x: pulseX, y: pulseY, xaxis:'x4', yaxis:'y4', mode:'markers', cliponaxis:false,
   marker:{symbol:'circle-open', size:6, color:BLUE, line:{color:BLUE, width:1.4}}, showlegend:false},
  {x: colX(estFilt), y: colY(estFilt), xaxis:'x5', yaxis:'y5', mode:'lines', name: legendBL[0],
   line:{color:RED, width:1.5}, legend:'legend'},
  {x: colX(lpFilt), y: colY(lpFilt), xaxis:'x5', yaxis:'y5', mode:'lines', name: legendBL[1],
   line:{color:BLUE, width:1.3, shape:'spline', smoothing:1}, legend:'legend'},
  {x: colX(estSignal), y: colY(estSignal), xaxis:'x6', yaxis:'y6', mode:'lines', name: legendBR[0],
   line:{color:RED, width:1.3}, legend:'legend2'},
  {x: colX(cleanSignal), y: colY(cleanSignal), xaxis:'x6', yaxis:'y6', mode:'lines', name: legendBR[1],
   line:{color:BLUE, width:2, dash:'dash'}, legend:'legend2'}
];

const py = v => 1 - v / H;
function ax(domain, range, extra) {
  return Object.assign({
    domain: domain, range: range, autorange:false, showline:true, linecolor:'#000', linewidth:2.5,
    ticks:'inside', ticklen:8, tickwidth:2, tickcolor:'#000',
    showgrid:true, gridcolor:'rgba(0,0,0,0.45)', griddash:'dot', gridwidth:1,
    zeroline:false, fixedrange:true,
    tickfont:{family:FONT, size:38, color:'#000'}
  }, extra || {});
}
const xa = (d, r, extra) => ax(d, r, Object.assign({ticklabelstandoff:-7}, extra));
const ya = (d, r, extra) => ax(d, r, Object.assign({ticklabelstandoff:-8}, extra));
const leftX = [144/W, 803/W], rightX = [911/W, 1568/W];

const layout = {
  width: W, height: H, margin:{l:0, r:0, t:0, b:0},
  paper_bgcolor:'#fff', plot_bgcolor:'rgba(0,0,0,0)',
  font:{family:FONT, color:'#000'},
  xaxis:  xa(leftX, [0, 29.94], {anchor:'y', tickvals: timeTicks}),
  yaxis:  ya([py(358), py(47.3)], [-0.778, 0.592], {anchor:'x', dtick:0.5, tick0:0}),
  xaxis2: xa(rightX, [0, 29.94], {anchor:'y2', tickvals: timeTicks}),
  yaxis2: ya([py(358), py(47.3)], [-0.1517, 0.1227], {anchor:'x2', dtick:0.1, tick0:0}),
  xaxis3: xa(leftX, [0, 4.9375], {anchor:'y3', dtick:1, tick0:0}),
  yaxis3: ya([py(777.7), py(467.7)], [-0.2095, 0.3605], {anchor:'x3', dtick:0.2, tick0:0}),
  xaxis4: xa([910/W, 1568/W], [0, 29.94], {anchor:'y4', tickvals: timeTicks, mirror:'ticks'}),
  yaxis4: ya([py(778.3), py(469.3)], [-0.436, 0.001], {anchor:'x4', dtick:0.2, tick0:0, mirror:'ticks'}),
  xaxis5: xa([134/W, 800/W], [0, 8], {anchor:'y5', tickvals: freqTicks}),
  yaxis5: ya([py(1196.7), py(881.7)], [-41.4, 19.9], {anchor:'x5', dtick:20, tick0:0}),
  xaxis6: xa(rightX, [0, 29.94], {anchor:'y6', tickvals: timeTicks}),
  yaxis6: ya([py(1197.7), py(889)], [-0.698, 0.404], {anchor:'x6', dtick:0.2, tick0:0}),
  legend: {x:620/W, y:py(879), xanchor:'left', yanchor:'top', bgcolor:'#fff', bordercolor:'#000', borderwidth:2,
           font:{family:FONT, size:28, color:'#000'}, itemwidth:30, tracegroupgap:0},
  legend2:{x:1306/W, y:py(885), xanchor:'left', yanchor:'top', bgcolor:'#fff', bordercolor:'#000', borderwidth:2,
           font:{family:FONT, size:28, color:'#000'}, itemwidth:30, tracegroupgap:0},
  annotations: [
    {text: timeLabel, x:(144+803)/2/W, y:py(418)},
    {text: timeLabel, x:(911+1568)/2/W, y:py(418)},
    {text: timeLabel, x:(144+803)/2/W, y:py(839)},
    {text: timeLabel, x:(910+1568)/2/W, y:py(839)},
    {text: freqLabel, x:(134+800)/2/W, y:py(1256)},
    {text: timeLabel, x:(911+1568)/2/W, y:py(1258)}
  ].map(a => Object.assign({xref:'paper', yref:'paper', xanchor:'center', yanchor:'middle', showarrow:false,
        font:{family:FONT, size:38, color:'#000'}}, a))
};

Plotly.newPlot('chart', traces, layout, {staticPlot:true, displayModeBar:false});
</script></body></html>
